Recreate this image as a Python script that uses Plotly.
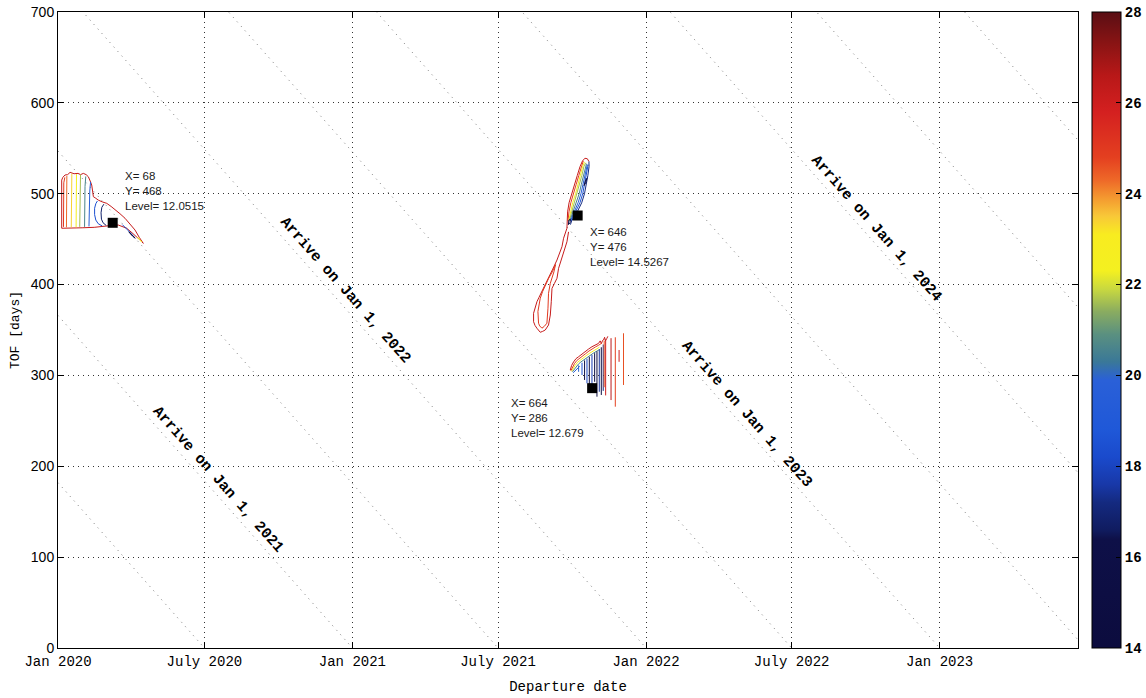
import plotly.graph_objects as go
from plotly.colors import sample_colorscale

# ---------------------------------------------------------------- axes
DEPART_TICK_DAYS = [0, 182, 366, 547, 731, 912, 1096]
DEPART_TICK_TEXT = ["Jan 2020", "July 2020", "Jan 2021", "July 2021",
                    "Jan 2022", "July 2022", "Jan 2023"]
TOF_TICKS = [0, 100, 200, 300, 400, 500, 600, 700]
DEPART_RANGE = [0, 1268]
TOF_RANGE = [0, 700]

# constant-arrival-date lines (days after Jan 1, 2020)
ARRIVAL_DAYS = [182, 366, 547, 731, 912, 1096, 1277, 1461, 1643, 1827]
ARRIVAL_LABELS = ["Arrive on Jan 1, 2021", "Arrive on Jan 1, 2022",
                  "Arrive on Jan 1, 2023", "Arrive on Jan 1, 2024"]
ARRIVAL_LABEL_X = [198, 357, 856, 1017]
ARRIVAL_LABEL_Y = [185, 394, 257, 462]

# data tips
TIP_X = [68, 646, 664]
TIP_Y = [468, 476, 286]
TIP_LEVEL = [12.0515, 14.5267, 12.679]
TIP_TEXT_X = [81, 659, 561]
TIP_TEXT_Y = [528, 467, 279]

# C3 colour scale
C3_MIN, C3_MAX = 14, 28
C3_TICKS = [14, 16, 18, 20, 22, 24, 26, 28]
C3_SCALE = [
    [0.000, "#0c0c3e"], [0.171, "#0e1048"], [0.186, "#101c60"],
    [0.229, "#142a80"], [0.257, "#1838a8"], [0.300, "#1a4acc"],
    [0.343, "#1f58d8"], [0.421, "#2a60d8"], [0.450, "#3a7898"],
    [0.493, "#5a9080"], [0.529, "#8aac60"], [0.564, "#c8d840"],
    [0.593, "#f4f020"], [0.650, "#f8ec20"], [0.679, "#f8c838"],
    [0.707, "#f49a30"], [0.736, "#ee6828"], [0.771, "#e44020"],
    [0.843, "#d42020"], [0.900, "#b81818"], [0.950, "#8a1414"],
    [1.000, "#5a0e14"],
]

# ---------------------------------------------------------------- contours
# early-2020 departure window
BLOB1_LEVELS = [26.2, 25.0, 24.3, 23.4, 22.6, 21.6, 20.6, 19.6, 18.4, 16.8,
                18.5, 15.5, 22.8]
BLOB1_X = [
    [4.6, 4.2, 4.6, 6, 8.7, 12, 15, 20, 25, 28, 31.5, 35, 37.7, 40, 41.9, 43,
     44, 47, 50, 55, 60.6, 66, 70.9, 77, 83.3, 90, 95.8, 101, 106, 102, 97.9,
     92, 85.4, 80, 75, 66, 58.5, 45, 30, 15, 4.6],
    [6.8, 7.0, 6.8, 7.2, 8.5],
    [10.5, 10.8, 10.3, 10.8, 11],
    [16.5, 16.8, 16.3, 16.8, 17.2],
    [22.5, 22.8, 22.3, 22.7, 23],
    [27, 27.3, 27, 27.5, 28],
    [33, 33.3, 33, 33.6, 34.5],
    [38.5, 38.8, 38.5, 39.5, 40.5],
    [55, 50, 47, 45.5, 45.5, 47, 49],
    [60, 56, 54, 53.5, 54.5, 57],
    [80, 85, 90, 95],
    [88, 92, 96, 93, 88],
    [99, 103, 104, 100, 99],
]
BLOB1_Y = [
    [462, 490, 515, 518, 520.6, 521, 523.5, 522, 522.4, 521, 522.4, 521,
     518.7, 514, 509.6, 503, 496.7, 495, 493, 491, 489.4, 486, 482, 478, 473,
     466, 460, 452, 445.4, 449, 452.7, 457, 462, 464, 465.5, 465, 464, 463,
     462.5, 462, 462],
    [463.5, 480, 497, 512, 518],
    [463, 480, 495, 510, 519.5],
    [463, 480, 497, 512, 522],
    [463, 480, 497, 512, 521.5],
    [463.5, 480, 497, 510, 521],
    [463.5, 480, 495, 508, 519],
    [464, 478, 492, 503, 513],
    [464.5, 467, 471, 477, 484, 489, 492],
    [465, 468, 472, 479, 485, 488.5],
    [466, 462, 457, 452],
    [458, 455, 451, 453, 458],
    [452, 448, 447, 450, 452],
]

# autumn-2021 departure window, long time of flight
BLOB2_LEVELS = [26.2, 24.8, 22.8, 21.6, 20.6, 19.8, 18.6, 17.2, 15.2, 15.8,
                26.2, 25.0]
BLOB2_X = [
    [632.7, 633.3, 633.5, 635.3, 639, 642, 645.5, 649, 652, 655, 658, 660],
    [634.0, 635.2, 637.5, 641.2, 644.1, 647.4, 650.6, 653],
    [634.8, 636.9, 639.8, 643.4, 646.2, 649.3, 652.2, 654.5],
    [635.5, 638.6, 642.0, 645.6, 648.3, 651.2, 653.8, 656],
    [636.3, 640.4, 644.3, 647.9, 650.5, 653.0, 655.4, 657],
    [637.0, 642.1, 646.5, 650.1, 652.6, 654.9, 657.0, 658],
    [637.8, 643.8, 648.8, 652.3, 654.7, 656.8, 658.6, 659],
    [637, 638.5, 645.5, 651, 654.5, 656.8, 658.7, 660.2, 660.5, 660],
    [654, 656, 657.5, 656, 654],
    [634.5, 636.5, 637, 635, 634.5],
    [632.7, 630.5, 628.5, 626.5, 622.3, 620.3, 615, 609.8, 605.5, 601.6, 598,
     595.4, 593, 591.2, 591.2, 593, 595.4, 599.5, 602.5, 605.7, 609.8, 612,
     613.2, 614.1, 617, 620.3, 622.3, 626.5, 629.5, 632.7, 634.7],
    [612, 609.8, 609.1, 607.8, 604.5, 601.6, 598.8, 597.4, 596.6, 598, 599.5,
     602.5, 605.7, 610, 614.5, 618.5, 616.5, 612],
]
BLOB2_Y = [
    [462, 470, 480, 490, 500, 510, 520, 530, 536, 539, 538.5, 535.5],
    [470, 480, 490, 500, 510, 520, 530, 536],
    [470, 480, 490, 500, 510, 520, 530, 535],
    [470, 480, 490, 500, 510, 520, 530, 534],
    [470, 480, 490, 500, 510, 520, 530, 533],
    [470, 480, 490, 500, 510, 520, 530, 532],
    [470, 480, 490, 500, 510, 520, 530, 532],
    [466, 470, 480, 490, 500, 510, 520, 530, 534, 535.5],
    [509, 512, 517, 515, 509],
    [466, 468, 472, 471, 466],
    [462, 456, 451, 441.7, 430.7, 427, 417, 406.9, 399, 392.1, 386, 381.1,
     375, 368.4, 359.1, 355, 351.9, 347.5, 348.5, 350, 355.5, 366.5, 381.1,
     395.8, 401, 406.9, 417.9, 428.9, 438, 447.1, 458],
    [401.4, 390.4, 374, 357.5, 354, 352, 354.5, 357.5, 370.3, 378, 385, 392.5,
     399.5, 407, 414, 422, 414, 401.4],
]

# autumn-2021 departure window, short time of flight
BLOB3_LEVELS = [26.2, 24.8, 22.8, 20.6, 19.0,
                20.0, 18.6, 16.0, 18.0, 15.5, 17.8, 15.5, 15.0, 17.5, 15.2,
                17.2, 24.5, 26.0, 26.5, 24.8, 26.0, 24.6]
BLOB3_X = [
    [636.8, 638.5, 641, 644, 647.2, 651, 655.5, 659.5, 663.8, 668, 672, 674,
     675.5, 677, 678.2, 679.5, 680.5, 682.4, 683.5],
    [637.5, 639.5, 642, 645, 648, 652, 656, 660, 664, 668, 672, 676],
    [638.5, 640.5, 643, 646, 649, 653, 657, 661, 665, 669, 673],
    [639.5, 641.5, 644, 647, 650, 654, 658, 662, 666, 670, 674],
    [640.5, 643, 645.5, 648.5],
    [647.2, 647.2], [651.4, 651.4], [654.6, 654.6], [657.6, 657.6],
    [660.5, 660.5], [663.8, 663.8], [667.1, 667.1], [670.0, 670.0],
    [672.9, 672.9], [675.4, 675.4], [677.8, 677.8],
    [679.0, 679.0], [680.8, 680.8], [687.5, 687.5], [692.8, 692.8],
    [697.5, 697.5], [703.0, 703.0],
]
BLOB3_Y = [
    [305.9, 311, 315, 318.5, 320.6, 323.5, 326, 329, 331.6, 333.5, 335.3, 338,
     335, 338.5, 339, 342, 338, 340.9, 343],
    [305, 309.5, 313, 316.5, 318.8, 321.5, 324, 326.8, 329.3, 331.3, 333.2,
     335.5],
    [304.5, 308, 311.2, 314.5, 316.8, 319.5, 322, 324.5, 327, 329, 331],
    [304, 306.5, 309.5, 312.5, 314.8, 317.5, 320, 322.5, 324.8, 326.8, 329],
    [303, 305, 307.5, 310],
    [311, 304], [314, 300.5], [316.5, 295], [318.5, 291.3],
    [320.5, 285.8], [322.5, 289], [324.5, 293], [326.5, 276.6],
    [328.5, 282], [331, 278.5], [334, 283],
    [338, 287], [339.5, 278], [341, 272.9], [342, 265.6],
    [328, 315], [346.4, 289.5],
]

MONO = "Liberation Mono"
SANS = "Liberation Sans, Arial"

fig = go.Figure()

# constant arrival-date guide lines, clipped by the axes
for a in ARRIVAL_DAYS:
    fig.add_trace(go.Scatter(
        x=[0, a], y=[a, 0], mode="lines",
        line=dict(color="#7a7a7a", width=1, dash="1px,5px"),
        hoverinfo="skip", showlegend=False))


def level_color(level):
    t = (level - C3_MIN) / (C3_MAX - C3_MIN)
    t = min(max(t, 0.0), 1.0)
    return sample_colorscale(C3_SCALE, [t])[0]


for levels, xs, ys in ((BLOB1_LEVELS, BLOB1_X, BLOB1_Y),
                       (BLOB2_LEVELS, BLOB2_X, BLOB2_Y),
                       (BLOB3_LEVELS, BLOB3_X, BLOB3_Y)):
    for lvl, x, y in zip(levels, xs, ys):
        fig.add_trace(go.Scatter(
            x=x, y=y, mode="lines",
            line=dict(color=level_color(lvl), width=1),
            hoverinfo="skip", showlegend=False))

# data-tip markers
fig.add_trace(go.Scatter(
    x=TIP_X, y=TIP_Y, mode="markers",
    marker=dict(symbol="square", size=10, color="black"),
    hoverinfo="skip", showlegend=False))

# colour bar carrier (points sit outside the visible range)
fig.add_trace(go.Scatter(
    x=[-100, -100], y=[-100, -100], mode="markers",
    marker=dict(color=[C3_MIN, C3_MAX], colorscale=C3_SCALE,
                cmin=C3_MIN, cmax=C3_MAX, showscale=True, size=1,
                colorbar=dict(
                    x=1.0134, xanchor="left", xpad=0,
                    y=0.5, yanchor="middle", ypad=0,
                    len=1.0, lenmode="fraction",
                    thickness=29, thicknessmode="pixels",
                    outlinecolor="black", outlinewidth=1,
                    tickvals=C3_TICKS, ticks="inside", ticklen=5,
                    tickcolor="black",
                    tickfont=dict(family=MONO, size=14, color="black",
                                  weight="bold"))),
    hoverinfo="skip", showlegend=False))

annotations = []
for txt, ax, ay in zip(ARRIVAL_LABELS, ARRIVAL_LABEL_X, ARRIVAL_LABEL_Y):
    annotations.append(dict(
        x=ax, y=ay, xref="x", yref="y", text=txt, showarrow=False,
        textangle=48.6, xanchor="center", yanchor="middle",
        font=dict(family=MONO, size=15, color="black", weight="bold")))

for px, py, lvl, tx, ty in zip(TIP_X, TIP_Y, TIP_LEVEL, TIP_TEXT_X, TIP_TEXT_Y):
    annotations.append(dict(
        x=tx, y=ty, xref="x", yref="y",
        text=f"X= {px}<br>Y= {py}<br>Level= {lvl}",
        showarrow=False, align="left", xanchor="left", yanchor="top",
        font=dict(family=SANS, size=11.5, color="#1a1a1a")))

fig.update_layout(
    width=1146, height=698,
    margin=dict(l=58, r=68, t=12, b=50, autoexpand=False),
    paper_bgcolor="white", plot_bgcolor="white",
    annotations=annotations,
    xaxis=dict(
        range=DEPART_RANGE, tickvals=DEPART_TICK_DAYS, ticktext=DEPART_TICK_TEXT,
        showgrid=True, gridcolor="#333333", gridwidth=1, griddash="1px,4px",
        zeroline=False, showline=True, linecolor="black", linewidth=1,
        mirror="ticks", ticks="inside", ticklen=6, tickcolor="black",
        tickfont=dict(family=MONO, size=14, color="black"),
        title=dict(text="Departure date", standoff=12,
                   font=dict(family=MONO, size=14, color="black"))),
    yaxis=dict(
        range=TOF_RANGE, tickvals=TOF_TICKS,
        showgrid=True, gridcolor="#333333", gridwidth=1, griddash="1px,4px",
        zeroline=False, showline=True, linecolor="black", linewidth=1,
        mirror="ticks", ticks="inside", ticklen=6, tickcolor="black",
        tickfont=dict(family=SANS, size=14, color="black"),
        title=dict(text="TOF [days]", standoff=8,
                   font=dict(family=MONO, size=13, color="black"))),
)

fig.write_html("out.html")
